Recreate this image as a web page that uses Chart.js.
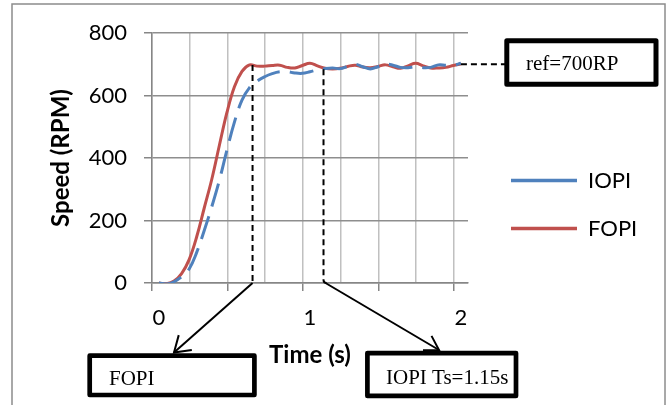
<!DOCTYPE html>
<html><head><meta charset="utf-8">
<script src="https://cdn.jsdelivr.net/npm/chart.js@4/dist/chart.umd.min.js"></script>
<style>html,body{margin:0;padding:0;background:#fff;}canvas{display:block;}</style>
</head><body>
<canvas id="c" width="669" height="405"></canvas>
<script>
// ---- data ----
const time = [0,0.05,0.1,0.15,0.2,0.25,0.3,0.35,0.4,0.45,0.5,0.55,0.6,0.65,0.7,0.75,0.8,0.85,0.9,0.95,1,1.05,1.1,1.15,1.2,1.25,1.3,1.35,1.4,1.45,1.5,1.55,1.6,1.65,1.7,1.75,1.8,1.85,1.9,1.95,2];
const iopi = [0,-3,4,20,45,98,168,244,328,425,515,585,625,646,660,670,676,676,672,671,676,682,686,688,686,693,700,692,685,692,700,697,690,689,692,689,690,698,697,697,703];
const fopi = [0,-2,6,30,75,148,240,332,440,545,628,677,698,694,694,696,697,690,688,696,703,695,687,685,687,693,697,691,689,693,698,692,687,695,703,695,688,688,690,696,701];
const seriesNames = ['IOPI', 'FOPI'];
const xTickLabels = [0, 1, 2];
const yTickValues = [0, 200, 400, 600, 800];
const refSpeed = 700;
const refLabel = 'ref=700RP';
const fopiMark = {t: 0.62, v: 698, label: 'FOPI'};
const iopiMark = {t: 1.09, v: 684, label: 'IOPI Ts=1.15s'};

// ---- layout constants ----
const W = 669, H = 405;
const AREA_LEFT = 152, AREA_RIGHT = 468, AREA_BOTTOM = 283;
const PAD_TOP = 33, PAD_BOTTOM = 29;
const X_MIN = -0.046, X_MAX = 2.047, GRID_STEP = 0.25;
const FONT = 'Lato';

const isLabelTick = v => xTickLabels.some(l => Math.abs(l - v) < 1e-9);
const gridIndex = v => Math.round((v - X_MIN) / GRID_STEP);

function arrow(ctx, x0, y0, x1, y1, len, ang) {
  ctx.beginPath(); ctx.moveTo(x0, y0); ctx.lineTo(x1, y1); ctx.stroke();
  const a = Math.atan2(y0 - y1, x0 - x1);
  ctx.beginPath();
  ctx.moveTo(x1 + len * Math.cos(a + ang), y1 + len * Math.sin(a + ang));
  ctx.lineTo(x1, y1);
  ctx.lineTo(x1 + len * Math.cos(a - ang), y1 + len * Math.sin(a - ang));
  ctx.stroke();
}
function box(ctx, x, y, w, h, lw) {
  ctx.save(); ctx.setLineDash([]); ctx.lineWidth = lw; ctx.lineJoin = 'round';
  ctx.strokeStyle = '#000'; ctx.strokeRect(x, y, w, h); ctx.restore();
}

const frame = {
  id: 'frame',
  beforeDraw(chart) {
    const ctx = chart.ctx;
    ctx.save();
    ctx.strokeStyle = '#8c8c8c'; ctx.lineWidth = 1.5;
    ctx.strokeRect(12, 4, 653, 420);
    ctx.restore();
  }
};

const legendShift = {
  id: 'legendShift',
  afterLayout(chart) {
    const lg = chart.legend;
    if (!lg) return;
    const dx = chart.chartArea.right + 17 - lg.left;
    lg.left += dx; lg.right += dx;
  }
};

const annotations = {
  id: 'annotations',
  afterDraw(chart) {
    const {ctx, scales: {x, y}} = chart;
    ctx.save();
    ctx.strokeStyle = '#000'; ctx.lineWidth = 2; ctx.lineCap = 'butt';
    ctx.setLineDash([6, 4]);
    const yRef = y.getPixelForValue(refSpeed);
    ctx.beginPath(); ctx.moveTo(x.getPixelForValue(2), yRef); ctx.lineTo(506, yRef); ctx.stroke();
    const x1 = x.getPixelForValue(fopiMark.t), x2 = x.getPixelForValue(iopiMark.t);
    const y0 = y.getPixelForValue(0);
    ctx.beginPath(); ctx.moveTo(x1, y.getPixelForValue(fopiMark.v)); ctx.lineTo(x1, y0); ctx.stroke();
    ctx.beginPath(); ctx.moveTo(x2, y.getPixelForValue(iopiMark.v)); ctx.lineTo(x2, y0 - 3); ctx.quadraticCurveTo(x2, y0, x2 + 3, y0); ctx.stroke();
    ctx.setLineDash([]);
    ctx.lineWidth = 2;
    arrow(ctx, x1, y0, 174, 352.5, 18, 0.58);
    arrow(ctx, x2 + 2, y0, 439, 350, 16, 0.55);
    box(ctx, 506.8, 40.8, 149.2, 43.4, 5);
    box(ctx, 89.7, 355.7, 164.7, 39.3, 4.7);
    box(ctx, 367.4, 353.1, 148.6, 42.8, 4.7);
    ctx.fillStyle = '#000';
    ctx.font = '21px "Liberation Serif"';
    ctx.textBaseline = 'alphabetic'; ctx.textAlign = 'left';
    ctx.fillText(refLabel, 526, 70);
    ctx.fillText(fopiMark.label, 109, 385);
    ctx.fillText(iopiMark.label, 386, 384);
    ctx.restore();
  }
};

const mk = arr => time.map((t, i) => ({x: t, y: arr[i]}));

new Chart(document.getElementById('c'), {
  type: 'line',
  data: {
    datasets: [
      {label: seriesNames[0], data: mk(iopi), borderColor: '#4F81BD', backgroundColor: '#4F81BD',
       borderWidth: 3, borderDash: [24, 10], pointRadius: 0, tension: 0.4, fill: false},
      {label: seriesNames[1], data: mk(fopi), borderColor: '#C0504D', backgroundColor: '#C0504D',
       borderWidth: 3, pointRadius: 0, tension: 0.4, fill: false}
    ]
  },
  options: {
    responsive: false,
    animation: false,
    devicePixelRatio: 1,
    layout: {padding: {top: PAD_TOP, right: 0, bottom: PAD_BOTTOM, left: 0}},
    plugins: {
      tooltip: {enabled: false},
      legend: {
        display: true,
        position: 'right',
        maxWidth: 300,
        labels: {
          font: {family: FONT, size: 22},
          color: '#000',
          usePointStyle: true,
          pointStyle: 'line',
          pointStyleWidth: 66,
          padding: 26,
          generateLabels(chart) {
            const items = Chart.defaults.plugins.legend.labels.generateLabels(chart);
            items.forEach(it => {
              if (it.lineDash && it.lineDash.length) it.lineDash = [25, 11];
              it.lineWidth = 3.5;
            });
            return items;
          }
        }
      }
    },
    scales: {
      x: {
        type: 'linear',
        min: X_MIN, max: X_MAX,
        afterBuildTicks(s) {
          const vals = [];
          for (let k = 0; X_MIN + k * GRID_STEP < X_MAX; k++) vals.push(X_MIN + k * GRID_STEP);
          xTickLabels.forEach(v => vals.push(v));
          vals.sort((a, b) => a - b);
          s.ticks = vals.map(v => ({value: v}));
        },
        afterFit(s) { s.height = H - PAD_BOTTOM - AREA_BOTTOM; },
        ticks: {
          autoSkip: false, maxRotation: 0, padding: 14,
          font: {family: FONT, size: 22}, color: '#000',
          callback: v => isLabelTick(v) ? String(Math.round(v)) : ''
        },
        grid: {
          drawTicks: true, tickLength: 8, lineWidth: 1.5, tickWidth: 1.5,
          color: c => (c.tick && isLabelTick(c.tick.value)) ? 'rgba(0,0,0,0)' : '#c0c0c0',
          tickColor: c => {
            if (!c.tick || isLabelTick(c.tick.value)) return 'rgba(0,0,0,0)';
            return gridIndex(c.tick.value) % 2 === 0 ? '#868686' : 'rgba(0,0,0,0)';
          }
        },
        border: {display: true, color: '#868686', width: 1.5},
        title: {display: true, text: 'Time (s)', color: '#000',
                font: {family: FONT, size: 24, weight: 'bold'}, padding: {top: 0, bottom: 6}}
      },
      y: {
        type: 'linear',
        min: 0, max: 800,
        afterBuildTicks(s) { s.ticks = yTickValues.map(v => ({value: v})); },
        afterFit(s) { s.width = AREA_LEFT; },
        ticks: {padding: 17, font: {family: FONT, size: 22}, color: '#000'},
        grid: {color: '#8e8e8e', lineWidth: 1.5, tickLength: 8, tickColor: '#868686', tickWidth: 1.5},
        border: {display: true, color: '#868686', width: 1.5},
        title: {display: true, text: 'Speed (RPM)', color: '#000',
                font: {family: FONT, size: 24, weight: 'bold'}, padding: {top: 47, bottom: 0}}
      },
      gap: {
        type: 'linear', position: 'right', display: true,
        grid: {display: false, drawTicks: false},
        border: {display: false},
        ticks: {display: false},
        afterFit(s) { s.width = Math.max(0, W - AREA_RIGHT - (s.chart.legend ? s.chart.legend.width : 0)); }
      }
    }
  },
  plugins: [frame, legendShift, annotations]
});
</script>
</body></html>
